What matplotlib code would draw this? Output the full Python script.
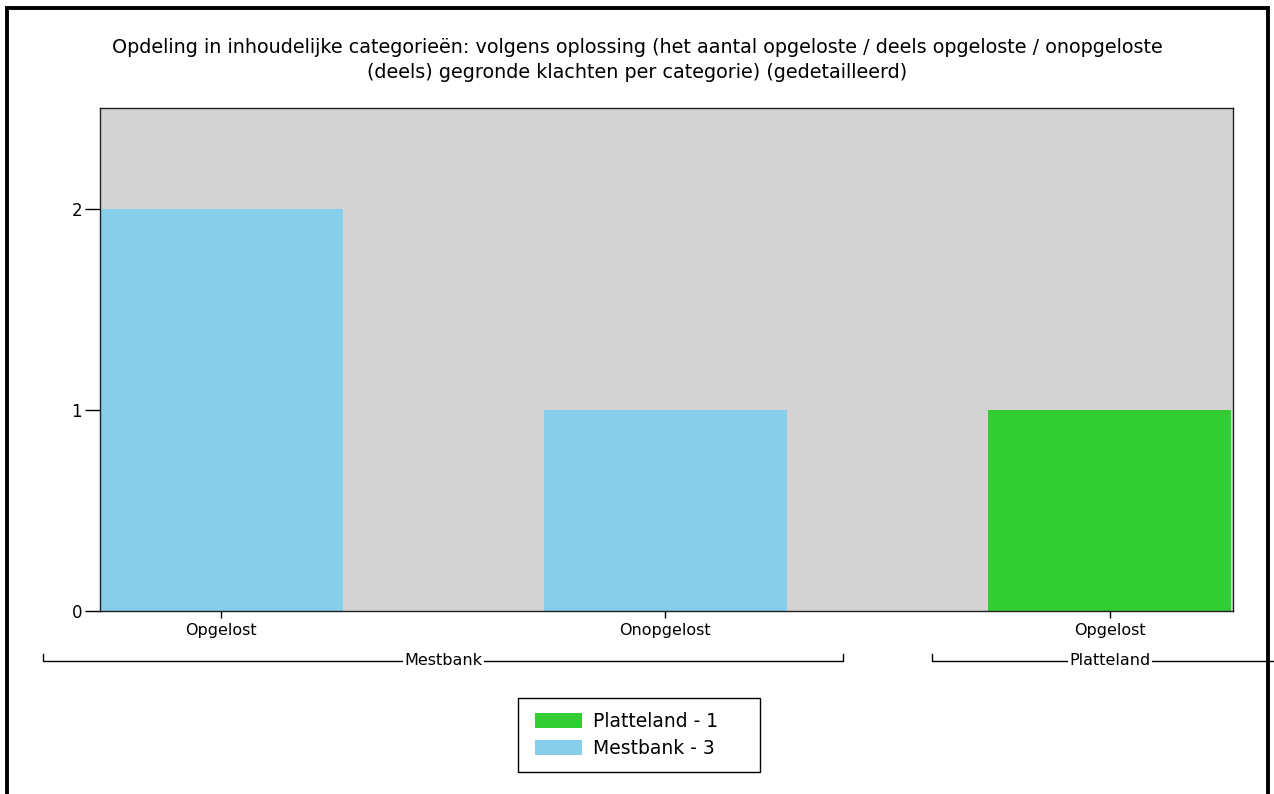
import matplotlib as mpl
mpl.use('Agg')
from matplotlib import pyplot as plt
from matplotlib.patches import Rectangle, Patch

# data
categories = ["Opgelost", "Onopgelost", "Opgelost"]
groups = ["Mestbank", "Mestbank", "Platteland"]
values = [2, 1, 1]
group_colors = {"Mestbank": "#87CEEB", "Platteland": "#32CD32"}
legend_order = ["Platteland", "Mestbank"]
yticks = [0, 1, 2]

title = ("Opdeling in inhoudelijke categorieën: volgens oplossing (het aantal opgeloste / deels opgeloste / onopgeloste\n"
         "(deels) gegronde klachten per categorie) (gedetailleerd)")

plt.rcParams['font.family'] = ['DejaVu Sans']

W, H = 1274, 794
fig = plt.figure(figsize=(W / 100, H / 100), dpi=100)
fig.patch.set_facecolor('white')
ax = fig.add_axes([100 / W, 1 - 611 / H, 1133 / W, 503 / H])
ax.set_facecolor('#D3D3D3')

x = list(range(len(categories)))
colors = [group_colors[g] for g in groups]
ax.bar(x, values, width=0.548, color=colors, zorder=2)

ax.set_xlim(-0.2725, 2.2775)
ax.set_ylim(0, 2.5)
ax.set_yticks(yticks)
ax.set_xticks(x)
ax.set_xticklabels(categories, fontsize=11.5)
ax.tick_params(axis='y', length=11, width=1, labelsize=12, pad=2)
ax.tick_params(axis='x', length=5, width=1, pad=3.5)
for s in ax.spines.values():
    s.set_color('#202020')
    s.set_linewidth(1)
    s.set_zorder(3)

fig.text(0.5, 1 - 60 / H, title, ha='center', va='center', fontsize=13.8, linespacing=1.35)

# group brackets under the category labels
tr = ax.get_xaxis_transform()
y_line = -0.0994
y_top = -0.0855
seen = []
for g in groups:
    if g in seen:
        continue
    seen.append(g)
    idx = [i for i, gg in enumerate(groups) if gg == g]
    x0 = idx[0] - 0.4
    x1 = idx[-1] + 0.4
    ax.plot([x0, x0, x1, x1], [y_top, y_line, y_line, y_top], transform=tr,
            color='black', lw=1, clip_on=False)
    ax.text((x0 + x1) / 2, y_line, g, transform=tr, ha='center', va='center', fontsize=11.5,
            bbox=dict(facecolor='white', edgecolor='none', pad=1), clip_on=False)

# legend (frame drawn separately)
totals = {g: sum(v for v, gg in zip(values, groups) if gg == g) for g in legend_order}
handles = [Patch(facecolor=group_colors[g], label=f"{g} - {totals[g]}") for g in legend_order]
fig.legend(handles=handles, loc='center left', bbox_to_anchor=(535 / W, 1 - 735 / H),
           fontsize=13.5, frameon=False, handlelength=2.5, handleheight=0.8,
           handletextpad=0.6, labelspacing=0.42, borderpad=0, borderaxespad=0)
fig.patches.append(Rectangle((518 / W, 1 - 772 / H), 242 / W, 74 / H,
                             transform=fig.transFigure, fill=False, edgecolor='black',
                             linewidth=1, zorder=5))

# outer frame
fig.patches.append(Rectangle((7 / W, -0.05), 1261 / W, 1 - 8 / H + 0.05,
                             transform=fig.transFigure, fill=False, edgecolor='black',
                             linewidth=2.8, zorder=10))

fig.savefig('out.png', dpi=100)
